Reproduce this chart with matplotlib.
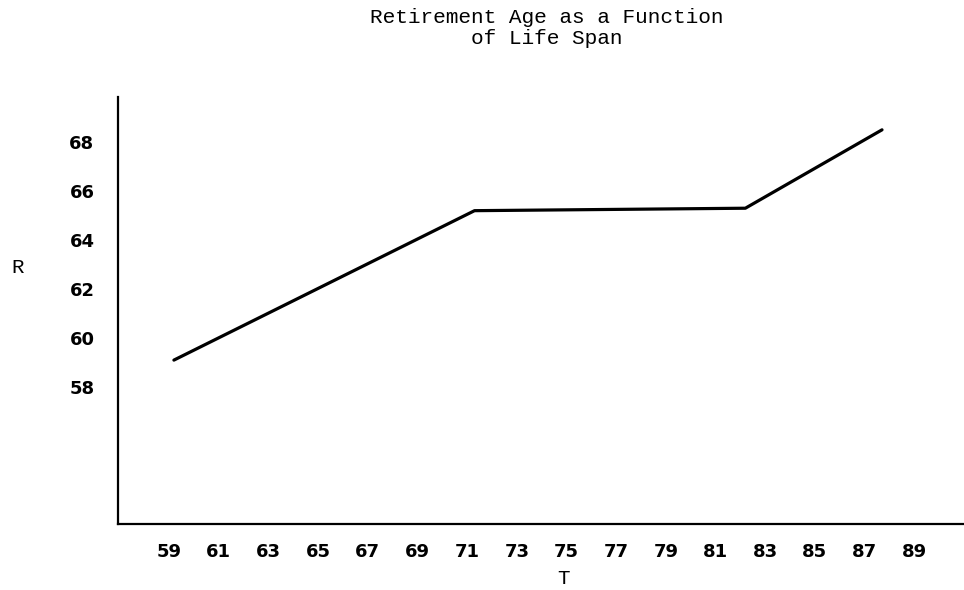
import matplotlib
matplotlib.use("Agg")
import matplotlib.pyplot as plt

# Data
life_span_T = [59.2, 71.3, 82.2, 87.7]
retirement_R = [59.1, 65.2, 65.3, 68.5]
x_ticks = list(range(59, 90, 2))
y_ticks = [58, 60, 62, 64, 66, 68]
title_text = "Retirement Age as a Function\nof Life Span"

fig = plt.figure(figsize=(9.64, 5.9), dpi=100)
ax = fig.add_axes([118 / 964, (590 - 524) / 590, 1 - 118 / 964, (524 - 97) / 590])

ax.plot(life_span_T, retirement_R, color="black", linewidth=2.3,
        solid_capstyle="round", solid_joinstyle="round")

ax.set_xlim(56.95, 91.0)
ax.set_ylim(52.41, 69.84)
ax.set_xticks(x_ticks)
ax.set_xticklabels([str(v) for v in x_ticks])
ax.set_yticks(y_ticks)
ax.set_yticklabels([str(v) for v in y_ticks])

for lab in ax.get_xticklabels() + ax.get_yticklabels():
    lab.set_fontfamily("DejaVu Sans")
    lab.set_fontsize(13)
    lab.set_fontweight("bold")

ax.tick_params(axis="both", length=0)
ax.tick_params(axis="x", pad=14)
ax.tick_params(axis="y", pad=17)

for s in ["top", "right"]:
    ax.spines[s].set_visible(False)
for s in ["left", "bottom"]:
    ax.spines[s].set_linewidth(1.6)
    ax.spines[s].set_color("black")

fig.text(547 / 964, 1 - 28 / 590, title_text, ha="center", va="center",
         family="Liberation Mono", fontsize=15.2, linespacing=1.1)
fig.text(18 / 964, 1 - 268 / 590, "R", ha="center", va="center",
         family="Liberation Mono", fontsize=15)
fig.text(563 / 964, 1 - 578 / 590, "T", ha="center", va="center",
         family="Liberation Mono", fontsize=15)

fig.savefig("out.png", dpi=100)
